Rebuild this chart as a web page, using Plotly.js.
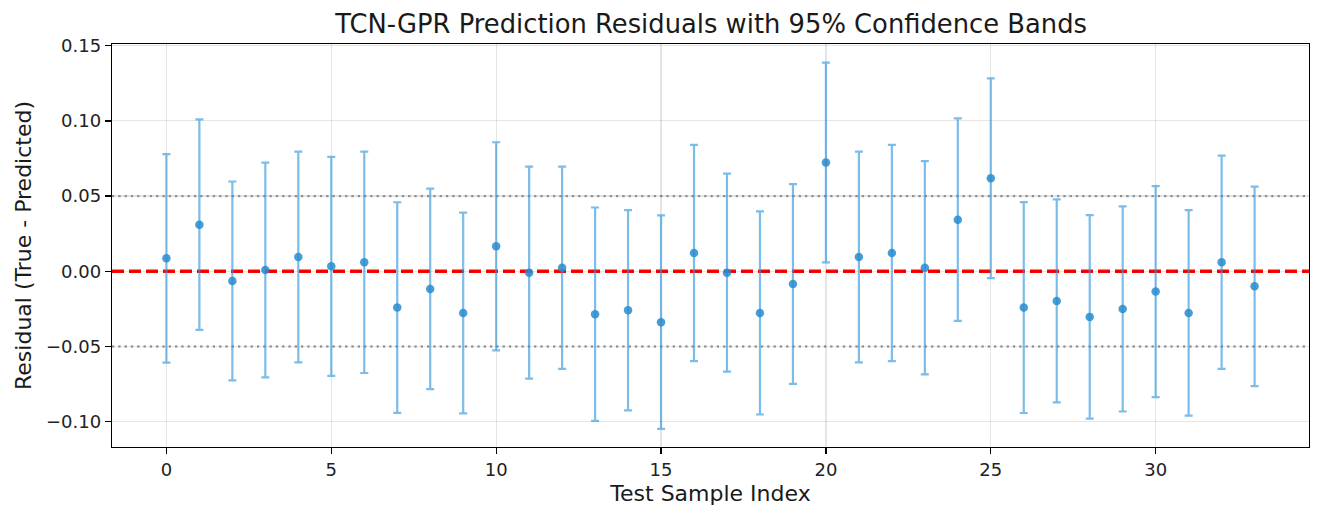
<!DOCTYPE html>
<html>
<head>
<meta charset="utf-8">
<script src="https://cdn.plot.ly/plotly-3.0.1.min.js"></script>
<style>
  html, body { margin: 0; padding: 0; background: #fff; }
  #chart { width: 1323px; height: 519px; }
</style>
</head>
<body>
<div id="chart"></div>
<script>
// residuals (true - predicted) per test sample
let sampleIndex = [];
for (let i = 0; i < 34; i++) sampleIndex.push(i);

let residuals = [
    0.0086, 0.0310, -0.0064, 0.0009, 0.0095, 0.0033, 0.0060, -0.0241, -0.0117, -0.0277,
    0.0166, -0.0009, 0.0024, -0.0285, -0.0259, -0.0338, 0.0122, -0.0009, -0.0277, -0.0084,
    0.0723, 0.0095, 0.0122, 0.0024, 0.0343, 0.0619, -0.0241, -0.0197, -0.0303, -0.0250,
    -0.0135, -0.0277, 0.0060, -0.0100
];

// half width of the 95% band
let ciHalf = [
    0.0693, 0.0700, 0.0661, 0.0714, 0.0701, 0.0728, 0.0736, 0.0700, 0.0666, 0.0667,
    0.0692, 0.0705, 0.0672, 0.0709, 0.0666, 0.0710, 0.0719, 0.0658, 0.0675, 0.0664,
    0.0664, 0.0700, 0.0719, 0.0709, 0.0673, 0.0664, 0.0701, 0.0675, 0.0677, 0.0682,
    0.0701, 0.0683, 0.0709, 0.0663
];

let zeroLine = 0;
let bandLines = [0.05, -0.05];

let fontFam = 'DejaVu Sans, sans-serif';

let resTrace = {
    x: sampleIndex,
    y: residuals,
    type: 'scatter',
    mode: 'markers',
    marker: {
        color: 'rgba(40,140,205,0.85)',
        size: 8.5
    },
    error_y: {
        type: 'data',
        array: ciHalf,
        visible: true,
        color: 'rgba(52,152,219,0.65)',
        thickness: 2.2,
        width: 4
    },
    hoverinfo: 'x+y'
};

let shapes = [{
    type: 'line', xref: 'paper', x0: 0, x1: 1,
    yref: 'y', y0: zeroLine, y1: zeroLine,
    line: {color: '#ff0000', width: 3.5, dash: '12px,5px'},
    layer: 'below'
}];
for (let lvl of bandLines) {
    shapes.push({
        type: 'line', xref: 'paper', x0: 0, x1: 1,
        yref: 'y', y0: lvl, y1: lvl,
        line: {color: 'rgba(128,128,128,0.75)', width: 2.3, dash: '2.3px,4px'},
        layer: 'below'
    });
}

let layout = {
    width: 1323,
    height: 519,
    margin: {l: 112, r: 14, t: 44, b: 72},
    paper_bgcolor: '#ffffff',
    plot_bgcolor: '#ffffff',
    font: {family: fontFam, color: '#000', size: 18},
    showlegend: false,
    title: {
        text: 'TCN-GPR Prediction Residuals with 95% Confidence Bands',
        font: {family: fontFam, size: 25.8, color: '#1a1a1a'},
        x: 0.5375, xanchor: 'center',
        y: 0.954, yanchor: 'middle'
    },
    xaxis: {
        range: [-1.65, 34.65],
        tickvals: [0, 5, 10, 15, 20, 25, 30],
        ticks: 'outside', ticklen: 6, tickwidth: 1.3, tickcolor: '#000',
        showgrid: true, gridcolor: 'rgba(0,0,0,0.1)', gridwidth: 1.2,
        zeroline: false,
        showline: true, linecolor: '#000', linewidth: 1.3, mirror: true,
        tickfont: {size: 18, color: '#222'},
        title: {text: 'Test Sample Index', font: {size: 22, color: '#1a1a1a'}, standoff: 6}
    },
    yaxis: {
        range: [-0.1168, 0.1511],
        tickvals: [-0.10, -0.05, 0.00, 0.05, 0.10, 0.15],
        tickformat: '.2f',
        ticks: 'outside', ticklen: 6, tickwidth: 1.3, tickcolor: '#000',
        showgrid: true, gridcolor: 'rgba(0,0,0,0.1)', gridwidth: 1.2,
        zeroline: false,
        showline: true, linecolor: '#000', linewidth: 1.3, mirror: true,
        tickfont: {size: 18, color: '#222'},
        title: {text: 'Residual (True - Predicted)', font: {size: 22, color: '#1a1a1a'}, standoff: 8}
    },
    shapes: shapes
};

Plotly.newPlot('chart', [resTrace], layout, {displayModeBar: false, staticPlot: true});
</script>
</body>
</html>
